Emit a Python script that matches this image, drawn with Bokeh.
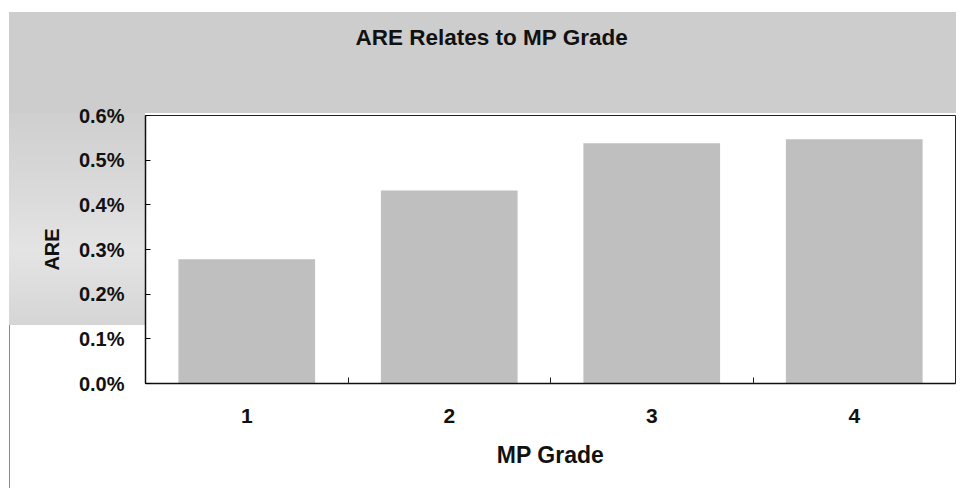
from bokeh.plotting import figure
from bokeh.models import NumeralTickFormatter, FixedTicker, Range1d, Title
from bokeh.embed import file_html
from bokeh.resources import INLINE

grades = [1, 2, 3, 4]
grade_labels = ["1", "2", "3", "4"]
are_values = [0.00278, 0.00432, 0.00538, 0.00547]
y_ticks = [0.0, 0.001, 0.002, 0.003, 0.004, 0.005, 0.006]
chart_title = "ARE Relates to MP Grade"

FONT = "Liberation Sans"

p = figure(width=956, height=488, output_backend="svg", toolbar_location=None,
           x_range=Range1d(0.5, 4.5), y_range=Range1d(0, 0.006),
           min_border_left=145, min_border_right=1, min_border_top=115, min_border_bottom=105)

bg = ("linear-gradient(#cdcdcd, #cdcdcd) 9px 12px / 100% 101px no-repeat, "
      "linear-gradient(#cfcfcf 0%, #d9d9d9 35%, #e4e4e4 65%, #d5d5d5 100%) 9px 113px / 136px 212px no-repeat, "
      "linear-gradient(#8a8a8a, #8a8a8a) 9px 12px / 1px 476px no-repeat, "
      "linear-gradient(#8a8a8a, #8a8a8a) 9px 12px / 100% 1px no-repeat, "
      "white")
p.styles = {"background": bg}

p.background_fill_color = "white"
p.border_fill_color = None
p.outline_line_color = "#222222"
p.outline_line_width = 1
p.grid.visible = False

p.vbar(x=grades, top=are_values, width=0.675, bottom=0,
       fill_color="#bfbfbf", line_color=None)

# real title (outermost panel)
p.title.text = chart_title
p.title.text_font = FONT
p.title.text_font_size = "22.5px"
p.title.text_font_style = "bold"
p.title.align = "left"
p.title.offset = 210
p.title.standoff = 10
p.title.text_color = "#111111"

# blank spacer panel between the title and the plot frame
spacer = Title(text=" ", text_font_size="1px", standoff=58)
p.add_layout(spacer, "above")

# y axis
p.yaxis.ticker = FixedTicker(ticks=y_ticks)
p.yaxis.formatter = NumeralTickFormatter(format="0.0%")
p.yaxis.axis_label = "ARE"
p.yaxis.major_tick_in = 5
p.yaxis.major_tick_out = 0
p.yaxis.minor_tick_line_color = None
p.yaxis.major_label_standoff = 21
p.yaxis.axis_label_standoff = 13

# x axis
p.xaxis.ticker = FixedTicker(ticks=grades, minor_ticks=[1.5, 2.5, 3.5])
p.xaxis.major_label_overrides = {g: lab for g, lab in zip(grades, grade_labels)}
p.xaxis.axis_label = "MP Grade"
p.xaxis.major_tick_line_color = None
p.xaxis.minor_tick_in = 6
p.xaxis.minor_tick_out = 0
p.xaxis.minor_tick_line_color = "#222222"
p.xaxis.major_label_standoff = 19
p.xaxis.axis_label_standoff = 16

for ax in (p.xaxis, p.yaxis):
    ax.axis_line_color = "#111111"
    ax.axis_line_width = 1.5
    ax.major_label_text_font = FONT
    ax.major_label_text_font_style = "bold"
    ax.major_label_text_color = "#111111"
    ax.axis_label_text_font = FONT
    ax.axis_label_text_font_style = "bold"
    ax.axis_label_text_color = "#111111"

p.yaxis.major_label_text_font_size = "20px"
p.yaxis.axis_label_text_font_size = "20px"
p.xaxis.major_label_text_font_size = "21px"
p.xaxis.axis_label_text_font_size = "23px"

with open("out.html", "w") as f:
    f.write(file_html(p, INLINE))
